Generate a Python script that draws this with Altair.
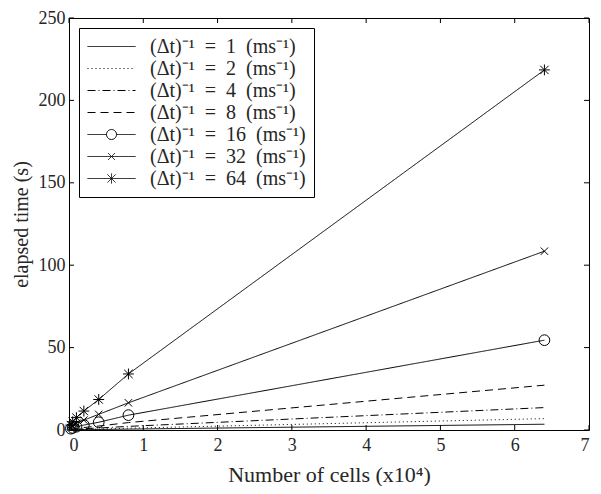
import altair as alt
import pandas as pd

# ---- data ----
cells = [0.025, 0.05, 0.1, 0.2, 0.4, 0.8, 6.4]          # number of cells (x10^4)
rates = [1, 2, 4, 8, 16, 32, 64]                          # (Δt)^-1 in ms^-1
t_r1 = [0.05, 0.08, 0.13, 0.2, 0.3, 0.55, 3.5]
t_r2 = [0.1, 0.15, 0.25, 0.4, 0.6, 1.1, 6.9]
t_r4 = [0.2, 0.3, 0.5, 0.8, 1.2, 2.2, 13.6]
t_r8 = [0.4, 0.6, 1.0, 1.5, 2.4, 4.5, 27.2]
t_r16 = [0.8, 1.3, 2.0, 3.0, 4.7, 9.0, 54.5]
t_r32 = [1.5, 2.5, 4.0, 6.0, 9.5, 16.5, 108.5]
t_r64 = [3.0, 5.0, 7.5, 11.5, 18.5, 34.0, 218.5]
series_times = [t_r1, t_r2, t_r4, t_r8, t_r16, t_r32, t_r64]
SP = "\u2002"
labels = [f"(\u0394t)\u207b\u00b9{SP}={SP}{r}{SP}(ms\u207b\u00b9)" for r in rates]
x_ticks = [0, 1, 2, 3, 4, 5, 6, 7]
y_ticks = [0, 50, 100, 150, 200, 250]

rows = []
for r, lab, ts in zip(rates, labels, series_times):
    for c, t in zip(cells, ts):
        rows.append({"rate": r, "label": lab, "cells": c, "time": t})
df = pd.DataFrame(rows)

W, H = 520, 412
FONT = "Liberation Serif"
TXT = "#262626"

dashes = [[1, 0], [1, 3], [8, 3, 1, 3], [8, 5], [1, 0], [1, 0], [1, 0]]
line_path = "M-1,0H3.8"
circ_leg = "M-1,0H0.9M1.9,0H3.8M1.9,0A0.5,0.5,0,1,1,0.9,0A0.5,0.5,0,1,1,1.9,0"
x_leg = "M-1,0H3.8M1.05,-0.35L1.75,0.35M1.75,-0.35L1.05,0.35"
ast_leg = "M-1,0H3.8M1,-0.4L1.8,0.4M1.8,-0.4L1,0.4M1.4,-0.5V0.5"
legend_shapes = [line_path, line_path, line_path, line_path, circ_leg, x_leg, ast_leg]

xs = alt.Scale(domain=[0, 7], nice=False, zero=False)
ys = alt.Scale(domain=[0, 250], nice=False)
X = alt.X("cells:Q", scale=xs, title="Number of cells (x10\u2074)",
          axis=alt.Axis(values=x_ticks, format="d"))
Y = alt.Y("time:Q", scale=ys, title="elapsed time (s)",
          axis=alt.Axis(values=y_ticks, format="d"))

dash_enc = alt.StrokeDash("label:N", scale=alt.Scale(domain=labels, range=dashes),
                          title=None, sort=labels)

lines = alt.Chart(df).mark_line(color="black", strokeWidth=1).encode(
    x=X, y=Y, strokeDash=dash_enc, order="cells:Q")

legend_layer = alt.Chart(df).mark_point(filled=False, color="black", strokeWidth=1, opacity=1).encode(
    shape=alt.Shape("label:N", scale=alt.Scale(domain=labels, range=legend_shapes),
                    title=None, sort=labels),
    strokeDash=dash_enc,
).transform_filter("false")

circle_p = "M1,0A1,1,0,1,1,-1,0A1,1,0,1,1,1,0"
x_p = "M-1,-1L1,1M1,-1L-1,1"
ast_p = "M-1,-1L1,1M1,-1L-1,1M0,-1.3V1.3M-1.3,0H1.3"

def markers(rate, path, size):
    return alt.Chart(df).transform_filter(alt.datum.rate == rate).mark_point(
        shape=path, size=size, filled=False, color="black", strokeWidth=1, opacity=1
    ).encode(x=X, y=Y)

m16 = markers(16, circle_p, 115)
m32 = markers(32, x_p, 55)
m64 = markers(64, ast_p, 70)

xt = pd.DataFrame({"x": x_ticks})
yt = pd.DataFrame({"y": y_ticks})
tb = alt.Chart(xt).mark_rule(color="black").encode(
    x=alt.X("x:Q", scale=xs), y=alt.value(H), y2=alt.value(H - 5))
tt = alt.Chart(xt).mark_rule(color="black").encode(
    x=alt.X("x:Q", scale=xs), y=alt.value(0), y2=alt.value(5))
tl = alt.Chart(yt).mark_rule(color="black").encode(
    y=alt.Y("y:Q", scale=ys), x=alt.value(0), x2=alt.value(5))
tr = alt.Chart(yt).mark_rule(color="black").encode(
    y=alt.Y("y:Q", scale=ys), x=alt.value(W), x2=alt.value(W - 5))

chart = alt.layer(lines, legend_layer, m16, m32, m64, tb, tt, tl, tr).properties(
    width=W, height=H,
    autosize=alt.AutoSizeParams(type="none"),
    padding={"left": 61, "top": 10, "right": 4, "bottom": 56},
).configure_view(stroke="black", strokeWidth=1).configure_axis(
    grid=False, domain=False, ticks=False, labelFont=FONT, titleFont=FONT,
    labelColor=TXT, titleColor=TXT, labelFontSize=18, titleFontWeight="normal",
).configure_axisX(labelPadding=6, titleFontSize=22, titlePadding=10
).configure_axisY(labelPadding=4, titleFontSize=20, titlePadding=7
).configure_legend(
    orient="top-left", offset=10, padding=8, strokeColor="black", fillColor="white",
    labelFont=FONT, labelFontSize=20, labelColor=TXT, symbolSize=400,
    symbolStrokeWidth=1, symbolStrokeColor="black", rowPadding=1, labelOffset=42,
    cornerRadius=0, labelLimit=400,
)

chart.save("out.html", embed_options={"renderer": "svg", "actions": False})
